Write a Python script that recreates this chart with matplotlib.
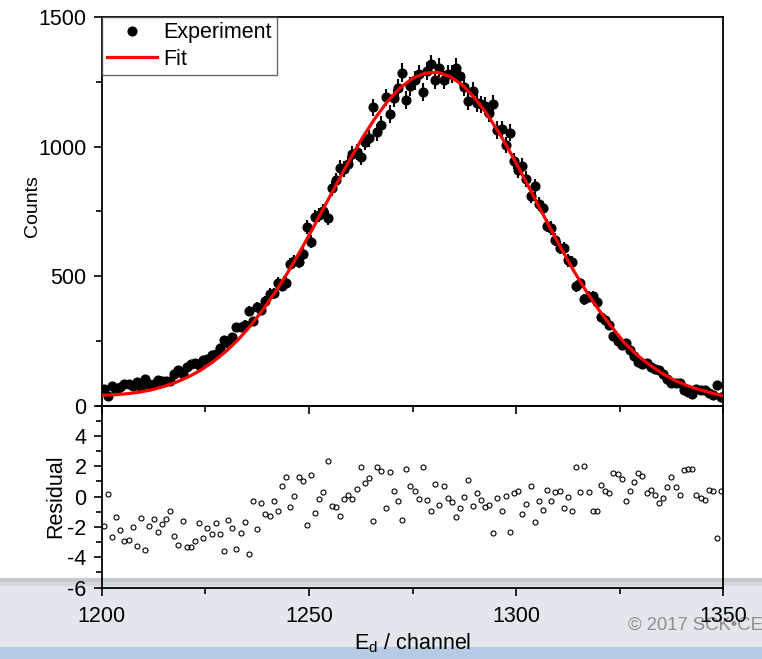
import matplotlib
matplotlib.use("Agg")
import matplotlib.pyplot as plt
import numpy as np
from matplotlib.patches import Rectangle
from matplotlib.ticker import MultipleLocator

plt.rcParams["font.family"] = ["Liberation Sans", "DejaVu Sans"]
plt.rcParams["mathtext.default"] = "regular"
plt.rcParams["axes.unicode_minus"] = False

# channels of the measured spectrum (bin centres)
channel = np.arange(1200, 1350) + 0.5

counts = [
    65, 39, 76, 61, 73, 83, 84, 75, 93, 71,
    102, 84, 82, 98, 95, 96, 95, 121, 136, 122,
    151, 159, 163, 157, 178, 181, 197, 200, 224, 254,
    241, 264, 303, 304, 311, 367, 326, 380, 370, 405,
    432, 434, 474, 463, 474, 547, 557, 554, 587, 689,
    633, 730, 735, 752, 725, 839, 870, 919, 913, 934,
    972, 980, 960, 1018, 1032, 1151, 1055, 1085, 1190, 1126,
    1188, 1226, 1285, 1180, 1232, 1255, 1280, 1210, 1291, 1319,
    1257, 1305, 1258, 1279, 1280, 1305, 1271, 1231, 1175, 1216,
    1169, 1163, 1157, 1130, 1165, 1064, 1067, 1006, 1054, 943,
    909, 925, 875, 810, 847, 778, 762, 695, 685, 641,
    609, 607, 561, 554, 460, 472, 410, 421, 423, 400,
    344, 331, 312, 269, 251, 236, 241, 216, 192, 170,
    161, 163, 149, 141, 137, 123, 104, 87, 88, 88,
    59, 53, 47, 65, 62, 60, 48, 43, 80, 35,
]

errors = [
    8, 6, 9, 8, 9, 9, 9, 9, 10, 8,
    10, 9, 9, 10, 10, 10, 10, 11, 12, 11,
    12, 13, 13, 13, 13, 13, 14, 14, 15, 16,
    16, 16, 17, 17, 18, 19, 18, 19, 19, 20,
    21, 21, 22, 22, 22, 23, 24, 24, 24, 26,
    25, 27, 27, 27, 27, 29, 29, 30, 30, 31,
    31, 31, 31, 32, 32, 34, 32, 33, 34, 34,
    34, 35, 36, 34, 35, 35, 36, 35, 36, 36,
    35, 36, 35, 36, 36, 36, 36, 35, 34, 35,
    34, 34, 34, 34, 34, 33, 33, 32, 32, 31,
    30, 30, 30, 28, 29, 28, 28, 26, 26, 25,
    25, 25, 24, 24, 21, 22, 20, 21, 21, 20,
    19, 18, 18, 16, 16, 15, 16, 15, 14, 13,
    13, 13, 12, 12, 12, 11, 10, 9, 9, 9,
    8, 7, 7, 8, 8, 8, 7, 7, 9, 6,
]

residual = [
    -1.91, 0.15, -2.64, -1.36, -2.20, -2.92, -2.88, -2.02, -3.25, -1.41,
    -3.52, -1.93, -1.45, -2.35, -1.78, -1.49, -0.92, -2.57, -3.21, -1.63,
    -3.32, -3.32, -2.92, -1.76, -2.70, -2.07, -2.44, -1.71, -2.44, -3.58,
    -1.56, -2.04, -3.49, -2.42, -1.69, -3.80, -0.31, -2.11, -0.40, -1.12,
    -1.27, -0.26, -0.97, 0.70, 1.32, -0.68, 0.04, 1.27, 1.05, -1.85,
    1.45, -1.10, -0.15, 0.33, 2.35, -0.62, -0.68, -1.30, -0.13, 0.13,
    -0.15, 0.48, 1.93, 0.92, 1.25, -1.60, 1.96, 1.71, -0.75, 1.65,
    0.35, -0.26, -1.52, 1.85, 0.70, 0.35, -0.13, 1.96, -0.20, -0.92,
    0.84, -0.53, 0.68, -0.09, -0.35, -1.36, -0.77, -0.02, 1.12, -0.59,
    0.22, -0.20, -0.68, -0.57, -2.37, -0.07, -0.97, 0.07, -2.35, 0.26,
    0.40, -1.14, -0.48, 0.70, -1.69, -0.31, -0.88, 0.46, -0.29, 0.29,
    0.37, -0.75, 0.00, -0.95, 1.98, 0.31, 2.00, 0.33, -0.95, -0.95,
    0.79, 0.37, 0.26, 1.56, 1.49, 1.16, -0.26, 0.35, 0.97, 1.58,
    1.38, 0.22, 0.42, 0.13, -0.42, -0.09, 0.66, 1.30, 0.62, 0.09,
    1.74, 1.80, 1.82, 0.09, -0.09, -0.20, 0.42, 0.40, -2.73, 0.35,
]

# fitted curve, read every 3 channels
fit_channel = np.arange(1200, 1351, 3)
fit_counts = [
    40, 42, 46, 52, 61, 74, 91, 112, 138, 171,
    210, 256, 310, 372, 441, 517, 599, 686, 776, 865,
    953, 1036, 1110, 1175, 1226, 1263, 1283, 1287, 1271, 1238,
    1188, 1125, 1050, 966, 876, 784, 692, 603, 518, 440,
    369, 306, 245, 198, 160, 127, 100, 79, 63, 50,
    38,
]

W, H = 762, 659
fig = plt.figure(figsize=(W / 100, H / 100), dpi=100)
fig.patch.set_facecolor("white")

# slide footer behind the plot
fig.add_artist(Rectangle((0, 0), 1, 1 - 578 / H, transform=fig.transFigure,
                         facecolor="#e3e6ec", edgecolor="none", zorder=-3))
fig.add_artist(Rectangle((0, 1 - 586 / H), 1, 8 / H, transform=fig.transFigure,
                         facecolor="#d3d6dc", edgecolor="none", zorder=-2.9))
fig.add_artist(Rectangle((0, 1 - 582 / H), 1, 4 / H, transform=fig.transFigure,
                         facecolor="#c6c9cf", edgecolor="none", zorder=-2.8))
fig.add_artist(Rectangle((0, 0), 1, 1 - 647 / H, transform=fig.transFigure,
                         facecolor="#b6cae4", edgecolor="none", zorder=-2.7))
fig.text(628 / W, 1 - 630 / H, "\u00a9 2017 SCK\u2022CEN", fontsize=13.3,
         color="#8e8e8e", ha="left", va="baseline", zorder=-2)

left, right = 101.7 / W, 723.3 / W
top_ax = fig.add_axes([left, 1 - 405.7 / H, right - left, (405.7 - 17) / H])
res_ax = fig.add_axes([left, 1 - 587.5 / H, right - left, (587.5 - 405.7) / H])

for ax in (top_ax, res_ax):
    ax.set_facecolor("none")
    for sp in ax.spines.values():
        sp.set_linewidth(1.3)
    ax.set_xlim(1200, 1350)
    ax.xaxis.set_major_locator(MultipleLocator(50))
    ax.xaxis.set_minor_locator(MultipleLocator(25))
    ax.tick_params(which="major", direction="out", length=6, width=1.2,
                   labelsize=15.5, pad=5)
    ax.tick_params(which="minor", direction="out", length=4, width=1.2)
    ax.tick_params(top=False, right=False)

# top panel
top_ax.errorbar(channel, counts, yerr=errors, fmt="none", ecolor="black",
                elinewidth=1.5, capsize=0, zorder=2)
top_ax.plot(channel, counts, "o", color="black", ms=6.3, label="Experiment",
            zorder=3)
top_ax.plot(fit_channel, fit_counts, color="#ff0000", lw=2.3, label="Fit",
            zorder=4)
top_ax.set_ylim(0, 1500)
top_ax.yaxis.set_major_locator(MultipleLocator(500))
top_ax.yaxis.set_minor_locator(MultipleLocator(250))
top_ax.tick_params(labelbottom=False)
top_ax.set_ylabel("Counts", fontsize=14)
top_ax.yaxis.set_label_coords(-0.098, 0.514)

leg = top_ax.legend(loc="upper left", fontsize=15.5, frameon=True, fancybox=False,
                    borderaxespad=0, borderpad=0.25, labelspacing=0.25,
                    handlelength=2.3, handletextpad=0.3)
leg.get_frame().set_edgecolor("#444444")
leg.get_frame().set_linewidth(1.0)

# residual panel
res_ax.plot(channel, residual, "o", mfc="none", mec="black", ms=3.6, mew=0.8)
res_ax.set_ylim(-6, 6)
res_ax.set_yticks([-6, -4, -2, 0, 2, 4])
res_ax.yaxis.set_minor_locator(MultipleLocator(1))
res_ax.set_ylabel("Residual", fontsize=15.5)
res_ax.yaxis.set_label_coords(-0.057, 0.5)
res_ax.tick_params(axis="x", pad=7)

fig.text(412.5 / W, 1 - 643 / H, "E$_{d}$ / channel", fontsize=15.5,
         ha="center", va="center")

fig.savefig("out.png", dpi=100)
